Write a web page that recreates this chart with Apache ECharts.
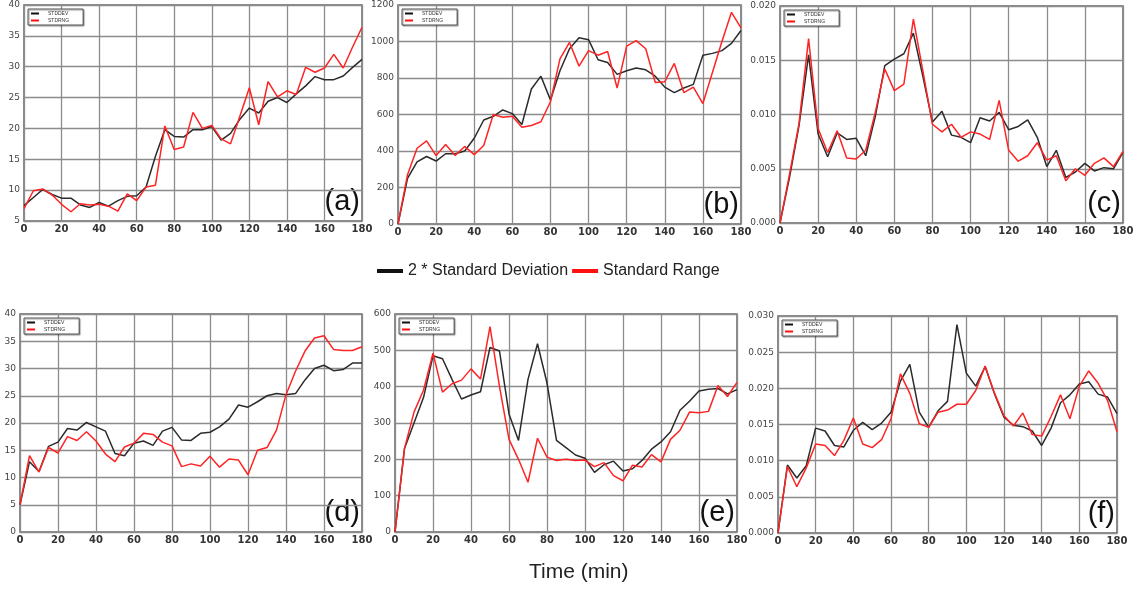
<!DOCTYPE html>
<html>
<head>
<meta charset="utf-8">
<script src="https://cdn.jsdelivr.net/npm/echarts@6/dist/echarts.min.js"></script>
<style>
  html, body { margin: 0; padding: 0; background: #fff; }
</style>
</head>
<body>
<div id="main" style="width:1137px; height:592px"></div>
<script>
// time in minutes, one sample every 5 min
var minutes = [0,5,10,15,20,25,30,35,40,45,50,55,60,65,70,75,80,85,90,95,100,105,110,115,120,125,130,135,140,145,150,155,160,165,170,175,180];

var stddevA = [7.5,8.8,10.1,9.3,8.7,8.7,7.6,7.2,8.0,7.4,8.3,9.0,9.1,10.5,15.5,19.8,18.7,18.6,19.8,19.8,20.3,18.1,19.2,21.5,23.3,22.5,24.4,25.0,24.2,25.6,26.9,28.4,27.9,27.9,28.5,29.9,31.2];
var stdrngA = [7.0,9.9,10.2,9.2,7.7,6.5,7.8,7.6,7.7,7.4,6.6,9.4,8.3,10.5,10.8,20.4,16.6,17.0,22.6,20.0,20.5,18.3,17.5,22.0,26.6,20.6,27.6,25.1,26.1,25.5,29.9,29.1,29.8,32.0,29.8,33.2,36.4];

var stddevB = [0,250,340,370,345,385,385,400,470,570,590,625,605,545,740,810,680,840,960,1020,1010,900,885,820,840,855,845,810,750,720,745,765,925,935,950,990,1060];
var stdrngB = [0,270,415,455,375,435,375,425,380,430,600,585,590,530,540,560,670,905,995,865,950,925,945,745,975,1005,960,775,780,880,720,750,660,830,1000,1160,1075];

var stddevC = [0,0.0042,0.0090,0.0155,0.0082,0.0061,0.0083,0.0077,0.0078,0.0062,0.0098,0.0145,0.0151,0.0156,0.0175,0.0135,0.0093,0.0103,0.0081,0.0079,0.0074,0.0097,0.0094,0.0102,0.0086,0.0089,0.0095,0.0079,0.0052,0.0067,0.0042,0.0047,0.0055,0.0048,0.0051,0.0050,0.0065];
var stdrngC = [0,0.0045,0.0092,0.0170,0.0087,0.0065,0.0085,0.0060,0.0059,0.0067,0.0102,0.0142,0.0122,0.0128,0.0188,0.0140,0.0091,0.0084,0.0091,0.0079,0.0084,0.0082,0.0077,0.0113,0.0067,0.0057,0.0062,0.0074,0.0058,0.0062,0.0039,0.0050,0.0044,0.0055,0.0060,0.0052,0.0066];

var stddevD = [5,12.9,11.1,15.7,16.5,19.0,18.7,20.1,19.3,18.5,14.4,14.0,16.3,16.7,15.9,18.5,19.2,16.9,16.8,18.1,18.3,19.3,20.7,23.3,22.9,23.9,25.0,25.4,25.2,25.4,27.9,30.0,30.6,29.6,29.8,31.0,31.0];
var stdrngD = [5,14.0,11.0,15.5,14.5,17.5,16.8,18.4,16.7,14.3,12.9,15.6,16.3,18.1,17.9,16.5,15.8,12.0,12.5,12.1,13.9,11.9,13.4,13.2,10.5,15.0,15.5,18.7,25.2,29.5,33.2,35.6,36.0,33.5,33.3,33.3,34.0];

var stddevE = [0,230,300,370,485,477,420,366,377,386,508,498,325,252,420,518,410,252,232,212,203,164,185,195,168,174,197,228,248,276,335,360,388,393,395,380,392];
var stdrngE = [0,230,330,390,492,385,408,418,449,421,565,400,255,200,137,258,206,197,200,197,198,180,191,155,141,184,179,213,193,255,280,330,328,332,403,373,412];

var stddevF = [0,0.0094,0.0076,0.0093,0.0145,0.0141,0.0121,0.0119,0.0142,0.0153,0.0143,0.0152,0.0167,0.0210,0.0233,0.0167,0.0146,0.0169,0.0182,0.0288,0.0221,0.0203,0.0230,0.0192,0.0160,0.0149,0.0147,0.0141,0.0121,0.0145,0.0180,0.0191,0.0206,0.0209,0.0192,0.0188,0.0165];
var stdrngF = [0,0.0092,0.0064,0.0090,0.0123,0.0121,0.0107,0.0128,0.0159,0.0123,0.0118,0.0129,0.0158,0.0220,0.0193,0.0151,0.0146,0.0167,0.0170,0.0178,0.0178,0.0197,0.0231,0.0193,0.0162,0.0148,0.0166,0.0136,0.0134,0.0161,0.0191,0.0158,0.0203,0.0224,0.0207,0.0183,0.0140];

var panelLetters = ['(a)', '(b)', '(c)', '(d)', '(e)', '(f)'];
var devName = '2 * Standard Deviation';
var rngName = 'Standard Range';

var panels = [
  { dev: stddevA, rng: stdrngA, min: 5, max: 40, step: 5, dec: 0, box: { left: 24, top: 5, width: 338, height: 216 } },
  { dev: stddevB, rng: stdrngB, min: 0, max: 1200, step: 200, dec: 0, box: { left: 398, top: 5, width: 343, height: 219 } },
  { dev: stddevC, rng: stdrngC, min: 0, max: 0.02, step: 0.005, dec: 3, box: { left: 780, top: 6, width: 343, height: 217 } },
  { dev: stddevD, rng: stdrngD, min: 0, max: 40, step: 5, dec: 0, box: { left: 20, top: 314, width: 342, height: 218 } },
  { dev: stddevE, rng: stdrngE, min: 0, max: 600, step: 100, dec: 0, box: { left: 395, top: 314, width: 342, height: 218 } },
  { dev: stddevF, rng: stdrngF, min: 0, max: 0.03, step: 0.005, dec: 3, box: { left: 778, top: 316, width: 339, height: 217 } }
];

function pairs(ys) {
  return minutes.map(function (m, i) { return [m, ys[i]]; });
}

var myChart = echarts.init(document.getElementById('main'));

var grid = [], xAxis = [], yAxis = [], series = [], graphic = [];
var legend = [{
  data: [devName, rngName],
  left: 372,
  top: 258,
  itemWidth: 26,
  itemHeight: 4,
  itemGap: 4,
  icon: 'rect',
  textStyle: { fontSize: 16, color: '#222', fontFamily: 'Liberation Sans' }
}];

panels.forEach(function (p, k) {
  grid.push({
    left: p.box.left, top: p.box.top, width: p.box.width, height: p.box.height,
    show: true, borderColor: '#666', borderWidth: 1.5, backgroundColor: '#fff'
  });
  xAxis.push({
    type: 'value', gridIndex: k, min: 0, max: 180, interval: 20,
    axisLine: { show: false }, axisTick: { show: false },
    splitLine: { lineStyle: { color: '#8c8c8c', width: 1.3 } },
    axisLabel: { fontSize: 10, fontWeight: 'bold', color: '#333', margin: 3, fontFamily: 'DejaVu Sans' }
  });
  yAxis.push({
    type: 'value', gridIndex: k, min: p.min, max: p.max, interval: p.step,
    axisLine: { show: false }, axisTick: { show: false },
    splitLine: { lineStyle: { color: '#8c8c8c', width: 1.3 } },
    axisLabel: {
      fontSize: 9, color: '#444', margin: 4, fontFamily: 'DejaVu Sans',
      formatter: function (v) { return v.toFixed(p.dec); }
    }
  });
  series.push({
    name: devName, type: 'line', xAxisIndex: k, yAxisIndex: k,
    data: pairs(p.dev), showSymbol: false, animation: false,
    lineStyle: { color: '#2b2b2b', width: 1.5 }, itemStyle: { color: '#111' }
  });
  series.push({
    name: rngName, type: 'line', xAxisIndex: k, yAxisIndex: k,
    data: pairs(p.rng), showSymbol: false, animation: false,
    lineStyle: { color: '#ff2424', width: 1.5 }, itemStyle: { color: '#ff1010' }
  });
  // small legend inside each panel
  legend.push({
    data: [devName, rngName],
    orient: 'vertical',
    left: p.box.left + 4,
    top: p.box.top + 4,
    itemWidth: 8, itemHeight: 2, itemGap: 2, icon: 'rect',
    padding: [2, 14, 2, 3],
    borderColor: '#555', borderWidth: 1,
    backgroundColor: '#fff',
    shadowColor: 'rgba(0,0,0,0.4)', shadowOffsetX: 1, shadowOffsetY: 1, shadowBlur: 1,
    textStyle: { fontSize: 5, color: '#333', padding: [0, 0, 0, 4] },
    formatter: function (name) { return name === devName ? 'STDDEV' : 'STDRNG'; }
  });
  graphic.push({
    type: 'text',
    right: 1137 - (p.box.left + p.box.width) + 2,
    top: p.box.top + p.box.height - 34,
    style: { text: panelLetters[k], fontSize: 29, fill: '#111', fontFamily: 'Liberation Sans' }
  });
});

graphic.push({
  type: 'text', left: 529, top: 562,
  style: { text: 'Time (min)', fontSize: 21, fill: '#222', fontFamily: 'Liberation Sans' }
});

var option = {
  backgroundColor: '#fff',
  animation: false,
  grid: grid,
  xAxis: xAxis,
  yAxis: yAxis,
  legend: legend,
  series: series,
  graphic: graphic
};

option && myChart.setOption(option);
</script>
</body>
</html>
